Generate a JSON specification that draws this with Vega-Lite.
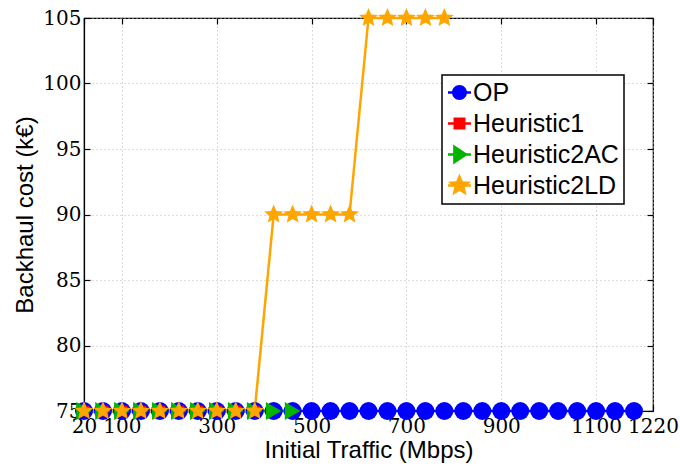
{
  "$schema": "https://vega.github.io/schema/vega-lite/v6.json",
  "width": 569,
  "height": 393,
  "autosize": {"type": "none"},
  "padding": {"left": 84, "top": 18, "right": 27, "bottom": 59},
  "background": "white",
  "config": {
    "view": {"stroke": "black", "strokeWidth": 1.2},
    "axis": {
      "labelFont": "DejaVu Serif",
      "labelFontSize": 20,
      "labelColor": "black",
      "titleFont": "Liberation Sans",
      "titleFontSize": 24,
      "titleFontWeight": "normal",
      "titleColor": "black",
      "domainColor": "black",
      "domainWidth": 1.2,
      "tickColor": "black",
      "tickWidth": 1.2,
      "labelOverlap": false,
      "labelBound": false,
      "labelFlush": false
    }
  },
  "resolve": {"axis": {"x": "independent", "y": "independent"}},
  "data": {
    "values": [
      {"s": "OP", "x": 20, "y": 75}, {"s": "OP", "x": 60, "y": 75}, {"s": "OP", "x": 100, "y": 75},
      {"s": "OP", "x": 140, "y": 75}, {"s": "OP", "x": 180, "y": 75}, {"s": "OP", "x": 220, "y": 75},
      {"s": "OP", "x": 260, "y": 75}, {"s": "OP", "x": 300, "y": 75}, {"s": "OP", "x": 340, "y": 75},
      {"s": "OP", "x": 380, "y": 75}, {"s": "OP", "x": 420, "y": 75}, {"s": "OP", "x": 460, "y": 75},
      {"s": "OP", "x": 500, "y": 75}, {"s": "OP", "x": 540, "y": 75}, {"s": "OP", "x": 580, "y": 75},
      {"s": "OP", "x": 620, "y": 75}, {"s": "OP", "x": 660, "y": 75}, {"s": "OP", "x": 700, "y": 75},
      {"s": "OP", "x": 740, "y": 75}, {"s": "OP", "x": 780, "y": 75}, {"s": "OP", "x": 820, "y": 75},
      {"s": "OP", "x": 860, "y": 75}, {"s": "OP", "x": 900, "y": 75}, {"s": "OP", "x": 940, "y": 75},
      {"s": "OP", "x": 980, "y": 75}, {"s": "OP", "x": 1020, "y": 75}, {"s": "OP", "x": 1060, "y": 75},
      {"s": "OP", "x": 1100, "y": 75}, {"s": "OP", "x": 1140, "y": 75}, {"s": "OP", "x": 1180, "y": 75},

      {"s": "Heuristic1", "x": 20, "y": 75}, {"s": "Heuristic1", "x": 60, "y": 75},
      {"s": "Heuristic1", "x": 100, "y": 75}, {"s": "Heuristic1", "x": 140, "y": 75},
      {"s": "Heuristic1", "x": 180, "y": 75}, {"s": "Heuristic1", "x": 220, "y": 75},
      {"s": "Heuristic1", "x": 260, "y": 75}, {"s": "Heuristic1", "x": 300, "y": 75},
      {"s": "Heuristic1", "x": 340, "y": 75}, {"s": "Heuristic1", "x": 380, "y": 75},

      {"s": "Heuristic2AC", "x": 20, "y": 75}, {"s": "Heuristic2AC", "x": 60, "y": 75},
      {"s": "Heuristic2AC", "x": 100, "y": 75}, {"s": "Heuristic2AC", "x": 140, "y": 75},
      {"s": "Heuristic2AC", "x": 180, "y": 75}, {"s": "Heuristic2AC", "x": 220, "y": 75},
      {"s": "Heuristic2AC", "x": 260, "y": 75}, {"s": "Heuristic2AC", "x": 300, "y": 75},
      {"s": "Heuristic2AC", "x": 340, "y": 75}, {"s": "Heuristic2AC", "x": 380, "y": 75},
      {"s": "Heuristic2AC", "x": 420, "y": 75}, {"s": "Heuristic2AC", "x": 460, "y": 75},

      {"s": "Heuristic2LD", "x": 20, "y": 75}, {"s": "Heuristic2LD", "x": 60, "y": 75},
      {"s": "Heuristic2LD", "x": 100, "y": 75}, {"s": "Heuristic2LD", "x": 140, "y": 75},
      {"s": "Heuristic2LD", "x": 180, "y": 75}, {"s": "Heuristic2LD", "x": 220, "y": 75},
      {"s": "Heuristic2LD", "x": 260, "y": 75}, {"s": "Heuristic2LD", "x": 300, "y": 75},
      {"s": "Heuristic2LD", "x": 340, "y": 75}, {"s": "Heuristic2LD", "x": 380, "y": 75},
      {"s": "Heuristic2LD", "x": 420, "y": 90}, {"s": "Heuristic2LD", "x": 460, "y": 90},
      {"s": "Heuristic2LD", "x": 500, "y": 90}, {"s": "Heuristic2LD", "x": 540, "y": 90},
      {"s": "Heuristic2LD", "x": 580, "y": 90}, {"s": "Heuristic2LD", "x": 620, "y": 105},
      {"s": "Heuristic2LD", "x": 660, "y": 105}, {"s": "Heuristic2LD", "x": 700, "y": 105},
      {"s": "Heuristic2LD", "x": 740, "y": 105}, {"s": "Heuristic2LD", "x": 780, "y": 105}
    ]
  },
  "encoding": {
    "x": {
      "field": "x",
      "type": "quantitative",
      "scale": {"domain": [20, 1220], "nice": false, "zero": false},
      "axis": null
    },
    "y": {
      "field": "y",
      "type": "quantitative",
      "scale": {"domain": [75, 105], "nice": false, "zero": false},
      "axis": null
    },
    "color": {
      "field": "s",
      "type": "nominal",
      "scale": {
        "domain": ["OP", "Heuristic1", "Heuristic2AC", "Heuristic2LD"],
        "range": ["#0000ff", "#ff0000", "#00b400", "#ffa500"]
      },
      "legend": {
        "title": null,
        "orient": "none",
        "legendX": 358,
        "legendY": 57,
        "symbolSize": 529,
        "symbolStrokeWidth": 0,
        "symbolOpacity": 1,
        "labelFont": "Liberation Sans",
        "labelFontSize": 25,
        "labelColor": "black",
        "labelOffset": 1,
        "rowPadding": 5,
        "padding": 5,
        "strokeColor": "black",
        "fillColor": "white",
        "encode": {
          "legend": {"update": {"strokeWidth": {"value": 1.5}}},
          "symbols": {
            "update": {
              "shape": {
                "signal": "datum.value === 'OP' ? 'M-1,-0.11H1V0.11H-1Z M-0.65,0A0.65,0.65 0 1,1 0.65,0A0.65,0.65 0 1,1 -0.65,0Z' : datum.value === 'Heuristic1' ? 'M-1,-0.11H1V0.11H-1Z M-0.52,-0.52H0.52V0.52H-0.52Z' : datum.value === 'Heuristic2AC' ? 'M-1,-0.11H1V0.11H-1Z M-0.55,-0.87L0.75,0L-0.55,0.87Z' : 'M-1,-0.11H1V0.11H-1Z M0,-1.05L0.28,-0.38L1,-0.32L0.45,0.15L0.62,0.85L0,0.47L-0.62,0.85L-0.45,0.15L-1,-0.32L-0.28,-0.38Z'"
              },
              "fill": {"scale": "color", "field": "value"},
              "strokeWidth": {"value": 0}
            }
          }
        }
      }
    }
  },
  "layer": [
    {
      "mark": {"type": "line", "strokeWidth": 2.5, "clip": false},
      "encoding": {
        "detail": {"field": "s"},
        "x": {
          "field": "x",
          "type": "quantitative",
          "scale": {"domain": [20, 1220], "nice": false, "zero": false},
          "axis": {
            "title": "Initial Traffic (Mbps)",
            "values": [20, 100, 300, 500, 700, 900, 1100, 1220],
            "format": "d",
            "grid": true,
            "gridColor": "#b8b8b8",
            "gridDash": [1, 3],
            "gridWidth": 1,
            "ticks": true,
            "tickSize": -6,
            "labelPadding": 11,
            "titlePadding": 2
          }
        },
        "y": {
          "field": "y",
          "type": "quantitative",
          "scale": {"domain": [75, 105], "nice": false, "zero": false},
          "axis": {
            "title": "Backhaul cost (k€)",
            "values": [75, 80, 85, 90, 95, 100, 105],
            "format": "d",
            "grid": true,
            "gridColor": "#b8b8b8",
            "gridDash": [1, 3],
            "gridWidth": 1,
            "ticks": true,
            "tickSize": -6,
            "labelPadding": 9,
            "titlePadding": 5
          }
        }
      }
    },
    {
      "transform": [{"filter": "datum.s === 'OP'"}],
      "mark": {"type": "point", "shape": "circle", "filled": true, "opacity": 1, "size": 324, "strokeWidth": 0, "clip": false},
      "encoding": {
        "x": {
          "field": "x",
          "type": "quantitative",
          "scale": {"domain": [20, 1220], "nice": false, "zero": false},
          "axis": {
            "orient": "top",
            "values": [20, 100, 300, 500, 700, 900, 1100, 1220],
            "title": null,
            "labels": false,
            "domain": false,
            "grid": false,
            "ticks": true,
            "tickSize": -6
          }
        },
        "y": {
          "field": "y",
          "type": "quantitative",
          "scale": {"domain": [75, 105], "nice": false, "zero": false},
          "axis": {
            "orient": "right",
            "values": [75, 80, 85, 90, 95, 100, 105],
            "title": null,
            "labels": false,
            "domain": false,
            "grid": false,
            "ticks": true,
            "tickSize": -6
          }
        }
      }
    },
    {
      "transform": [{"filter": "datum.s === 'Heuristic1'"}],
      "mark": {"type": "point", "shape": "M-0.6,-0.6H0.6V0.6H-0.6Z", "filled": true, "opacity": 1, "size": 324, "strokeWidth": 0, "clip": false}
    },
    {
      "transform": [{"filter": "datum.s === 'Heuristic2AC'"}],
      "mark": {"type": "point", "shape": "triangle-right", "filled": true, "opacity": 1, "size": 324, "strokeWidth": 0, "clip": false}
    },
    {
      "transform": [{"filter": "datum.s === 'Heuristic2LD'"}],
      "mark": {"type": "point", "shape": "M0,-1.1L0.3,-0.4L1.05,-0.34L0.47,0.15L0.65,0.89L0,0.5L-0.65,0.89L-0.47,0.15L-1.05,-0.34L-0.3,-0.4Z", "filled": true, "opacity": 1, "size": 324, "strokeWidth": 0, "clip": false}
    }
  ]
}
